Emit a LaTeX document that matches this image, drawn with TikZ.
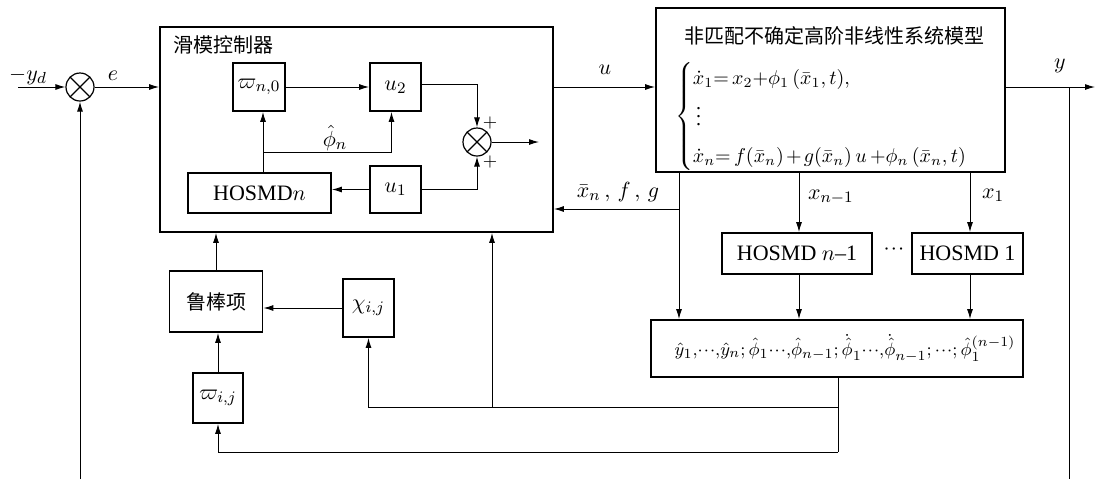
\documentclass[tikz,border=0pt]{standalone}
\usepackage[no-math]{fontspec}
\setmainfont{Liberation Serif}
\newfontfamily\cjk{Noto Sans CJK SC}
\usetikzlibrary{arrows.meta,calc}
\tikzset{
  every node/.style={font=\fontsize{11}{13}\selectfont},
  box/.style={draw,line width=0.9pt,inner sep=0pt},
  arr/.style={-{Latex[length=5pt,width=3pt]}},
  conn/.style={line width=0.5pt},
  cjklabel/.style={font=\fontsize{10}{12}\selectfont\cjk},
  sumnode/.style={draw,circle,line width=0.6pt,minimum size=14pt,inner sep=0pt,
    path picture={\draw[line width=0.6pt]
      (path picture bounding box.north west) -- (path picture bounding box.south east)
      (path picture bounding box.north east) -- (path picture bounding box.south west);}},
  plus/.style={font=\fontsize{9}{10}\selectfont}
}
\newcommand{\tdots}{\mathord{\cdot\!\cdot\!\cdot}}
\begin{document}
\begin{tikzpicture}[x=0.5pt,y=-0.5pt]
\useasboundingbox (0,0) rectangle (1099,479);
% controller
\node[box,minimum width=196.5pt,minimum height=102.5pt] (ctrl) at (356.5,129.5) {};
\node[cjklabel,anchor=west] (ctrltitle) at (166,45) {滑模控制器};
\node[box,minimum width=26pt,minimum height=24pt] (w0) at (259,87) {$\varpi_{n,0}$};
\node[box,minimum width=25.5pt,minimum height=24pt] (u2) at (395.5,87) {$u_2$};
\node[box,minimum width=25.5pt,minimum height=23.5pt] (u1) at (395.5,189.5) {$u_1$};
\node[box,minimum width=71.5pt,minimum height=20pt] (hn) at (259.5,193) {HOSMD$n$};
\node[sumnode] (s2) at (477,142) {};
\node[sumnode] (s1) at (80,87) {};
% plant
\node[box,minimum width=174.5pt,minimum height=82pt] (plant) at (830.5,90) {};
\node[cjklabel] (ptitle) at (834,36) {非匹配不确定高阶非线性系统模型};
\node[anchor=west,font=\fontsize{10}{13}\selectfont] (eq) at (668,116) {\renewcommand\arraystretch{1.42}\medmuskip=2mu\thickmuskip=3mu$\left\{\begin{array}{@{}l@{}}
 \dot{x}_1\!= x_2{+}\phi_1\,(\bar{x}_1,t),\\
 \;\vdots\\
 \dot{x}_n\!= f(\bar{x}_n) + g(\bar{x}_n)\,u\,{+}\phi_n\,(\bar{x}_n,t)
 \end{array}\right.$};
% observers
\node[box,minimum width=75pt,minimum height=20.5pt] (h1n) at (797,253.5) {HOSMD $n$\textendash1};
\node[box,minimum width=55.5pt,minimum height=20.5pt] (h1) at (967.5,253.5) {HOSMD 1};
\node (dots) at (894,250) {$\tdots$};
\node[box,minimum width=186pt,minimum height=28.5pt] (est) at (837,348.5) {};
\node[font=\fontsize{9.5}{12}\selectfont] (esttext) at (845,348) {$\hat{y}_1{,}\tdots{,}\hat{y}_n;\hat{\phi}_1\tdots{,}\hat{\phi}_{n-1};\dot{\hat{\phi}}_1\tdots{,}\dot{\hat{\phi}}_{n-1};\tdots;\hat{\phi}_1^{(n-1)}$};
% robust part
\node[box,minimum width=46.5pt,minimum height=30.5pt,cjklabel] (rob) at (216,301.5) {鲁棒项};
\node[box,minimum width=25.5pt,minimum height=29pt] (chi) at (368.5,308) {$\chi_{i,j}$};
\node[box,minimum width=25pt,minimum height=25pt] (wij) at (218,398) {$\varpi_{i,j}$};
% coordinates
\coordinate (yd) at (18,87);
\coordinate (sumout) at (539,142);
\coordinate (yout) at (1095,87);
\coordinate (ybr) at (1069,87);
\coordinate (ybot) at (1069,479);
\coordinate (fbbot) at (80,479);
\coordinate (br) at (263,152);
\coordinate (xb) at (679,209);
\coordinate (b1) at (838,407);
\coordinate (b2) at (838,452);
\coordinate (b3) at (492,407);
\coordinate (xn1) at (799,0);
\coordinate (x1) at (970,0);
% connectors
\draw[conn,arr] (yd) -- (s1);
\draw[conn,arr] (s1) -- (s1 -| ctrl.west);
\draw[conn,arr] (fbbot) -- (s1);
\draw[conn,arr] (w0) -- (u2);
\draw[conn,arr] ([yshift=1.5pt]u2.east) -| (s2);
\draw[conn,arr] (u1) -| (s2);
\draw[conn,arr] (u1.west) -- (u1.west -| hn.east);
\draw[conn,arr] (hn.north -| br) -- (w0.south -| br);
\draw[conn,arr] (br) -| ([xshift=-2pt]u2.south);
\draw[conn,arr] (s2) -- (sumout);
\draw[conn,arr] (ctrl.east |- w0) -- (plant.west |- w0);
\draw[conn,arr] (plant.east |- w0) -- (yout);
\draw[conn] (ybr) -- (ybot);
\draw[conn,arr] (plant.south -| xb) -- (est.north -| xb);
\draw[conn,arr] (xb) -- (xb -| ctrl.east);
\draw[conn,arr] (plant.south -| xn1) -- (h1n.north -| xn1);
\draw[conn,arr] (plant.south -| x1) -- (h1.north -| x1);
\draw[conn,arr] (h1n.south -| xn1) -- (est.north -| xn1);
\draw[conn,arr] (h1.south -| x1) -- (est.north -| x1);
\draw[conn] (est.south -| b1) -- (b2);
\draw[conn,arr] (b2) -| (wij);
\draw[conn,arr] (b1) -| (chi);
\draw[conn,arr] (b3) -- (b3 |- ctrl.south);
\draw[conn,arr] (wij.north) -- (wij.north |- rob.south);
\draw[conn,arr] (rob.north) -- (rob.north |- ctrl.south);
\draw[conn,arr] (chi.west) -- (chi.west -| rob.east);
% labels
\node (lyd) at (28,76) {$-y_d$};
\node (le) at (113,76) {$e$};
\node (lphi) at (335,138) {$\hat{\phi}_n$};
\node (lu) at (605,70) {$u$};
\node (ly) at (1060,66) {$y$};
\node (lx) at (618,192) {$\bar{x}_n\,,\,f\,,\,g$};
\node[anchor=west] (lxn1) at (801,197) {$x_{n-1}$};
\node[anchor=west] (lx1) at (975,195) {$x_1$};
\node[plus] (p1) at (490,123) {$+$};
\node[plus] (p2) at (490,162) {$+$};
\end{tikzpicture}
\end{document}
